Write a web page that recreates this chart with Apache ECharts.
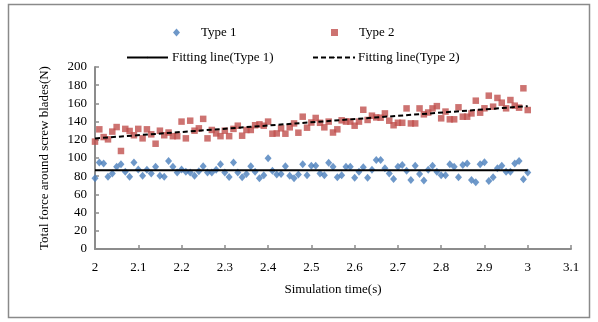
<!DOCTYPE html>
<html><head><meta charset="utf-8">
<script src="https://cdn.jsdelivr.net/npm/echarts@6/dist/echarts.min.js"></script>
<style>html,body{margin:0;padding:0;background:#fff}#c{width:598px;height:322px}</style>
</head><body><div id="c"></div>
<script>
const times = [];
for (let i = 0; i <= 100; i++) times.push(+(2 + i / 100).toFixed(2));
const type1 = [77.7,95,94,79.5,83,90.5,93,85,79.5,95,87.5,80.5,87,83,90.5,80.5,79.5,96.7,90.5,84,87.5,85,84,80.5,85.5,91,84,84,87,93,84,79,95,84,78.8,82.4,91,85,77.7,81,99.6,86,82,82.4,91,80.5,77.7,82,93,81,91.6,91.6,83,81,94.9,90.5,78.8,81,90.5,90.5,78.4,85,89.7,78.4,87,97.8,97.8,88.6,83,77,90.5,92.3,86,75.8,91.6,82.4,75.4,87,91.6,85,81,81,93,90.5,78.8,92.3,94,75.8,73.3,93,95.2,74.7,78.8,88.6,91.6,85,85,94,96.7,76.6,84];
const type2 = [118,131.5,123,120.5,129,134,107.7,132,129.7,125,132,121.6,131.5,126,115.7,130,125,128,124,124,140,121.6,141,130,132.6,143,121.6,130.8,127,124,130,124,132,135.5,124.5,130.8,130.8,136,137,135.5,140,126.7,127,132.6,126.7,133.7,138,127.8,145.4,133.3,139,144,138.7,133.7,140,128,131.5,141.4,140,140,135.5,140,153,141.8,146.5,144.6,144.3,149,141,136,138.7,138.7,154.5,138,138,154.5,148,150,154.5,157,143.6,151,142.5,142.5,155.7,145.4,145.4,149,163,149.8,154.6,168.5,156.4,166,160.8,154.6,163.7,157.5,155.3,176.6,152.7];
const fitX = [2, 3];
const fit1 = [86.5, 86.5];
const fit2 = [121.5, 157];
const xTicks = [2,2.1,2.2,2.3,2.4,2.5,2.6,2.7,2.8,2.9,3,3.1];

const font = 'Liberation Serif';
const chart = echarts.init(document.getElementById('c'), null, {renderer:'canvas'});
const pair = (xs, ys) => xs.map((x, i) => [x, ys[i]]);
const axisColor = '#8c8c8c';
const lt = {fontFamily:font, fontSize:13, color:'#000'};
chart.setOption({
  animation: false,
  backgroundColor: '#fff',
  graphic: [{type:'rect', shape:{x:8.5,y:4.5,width:581,height:313}, style:{fill:'none', stroke:'#8a8a8a', lineWidth:1.5}, silent:true}],
  grid: {left: 95, top: 67, width: 476, height: 182, containLabel: false},
  legend: [
    {data:[{name:'Type 1', icon:'diamond'}], left:168, top:21, itemWidth:7, itemHeight:8, textStyle:Object.assign({padding:[0,0,0,16]}, lt)},
    {data:[{name:'Type 2', icon:'rect'}], left:326, top:21, itemWidth:7, itemHeight:7, textStyle:Object.assign({padding:[0,0,0,16]}, lt)},
    {data:['Fitting line(Type 1)'], left:121, top:46, itemWidth:41, itemHeight:2, textStyle:Object.assign({padding:[0,0,0,-1]}, lt)},
    {data:['Fitting line(Type 2)'], left:307, top:46, itemWidth:42, itemHeight:2, textStyle:Object.assign({padding:[0,0,0,-2]}, lt)}
  ],
  xAxis: {
    type:'value', min:2, max:3.1, interval:0.1,
    name:'Simulation time(s)', nameLocation:'middle', nameGap:34,
    nameTextStyle:lt,
    axisLine:{show:true, lineStyle:{color:axisColor, width:2}},
    axisTick:{show:true, inside:true, length:4, lineStyle:{color:axisColor, width:1.5}},
    axisLabel:{fontFamily:font, fontSize:13, color:'#000', margin:12, formatter:(v)=>{const r=Math.round(v*10)/10; return xTicks.includes(r)? String(r):'';}},
    splitLine:{show:false}
  },
  yAxis: {
    type:'value', min:0, max:200, interval:20,
    name:'Total force around screw blades(N)', nameLocation:'middle', nameGap:44,
    nameTextStyle:lt,
    axisLine:{show:true, lineStyle:{color:axisColor, width:2}},
    axisTick:{show:true, inside:true, length:4, lineStyle:{color:axisColor, width:1.5}},
    axisLabel:{fontFamily:font, fontSize:13, color:'#000', margin:8},
    splitLine:{show:false}
  },
  series: [
    {name:'Type 1', type:'scatter', symbol:'diamond', symbolSize:[7,8], itemStyle:{color:'#4a7ebb'}, data:pair(times, type1), z:3},
    {name:'Type 2', type:'scatter', symbol:'rect', symbolSize:6.5, itemStyle:{color:'#c0504d'}, data:pair(times, type2), z:3},
    {name:'Fitting line(Type 1)', type:'line', symbol:'none', lineStyle:{color:'#000', width:2, type:'solid'}, itemStyle:{color:'#000'}, data:pair(fitX, fit1), z:4},
    {name:'Fitting line(Type 2)', type:'line', symbol:'none', lineStyle:{color:'#000', width:2, type:[5,3]}, itemStyle:{color:'#000'}, data:pair(fitX, fit2), z:4}
  ]
});
</script></body></html>
